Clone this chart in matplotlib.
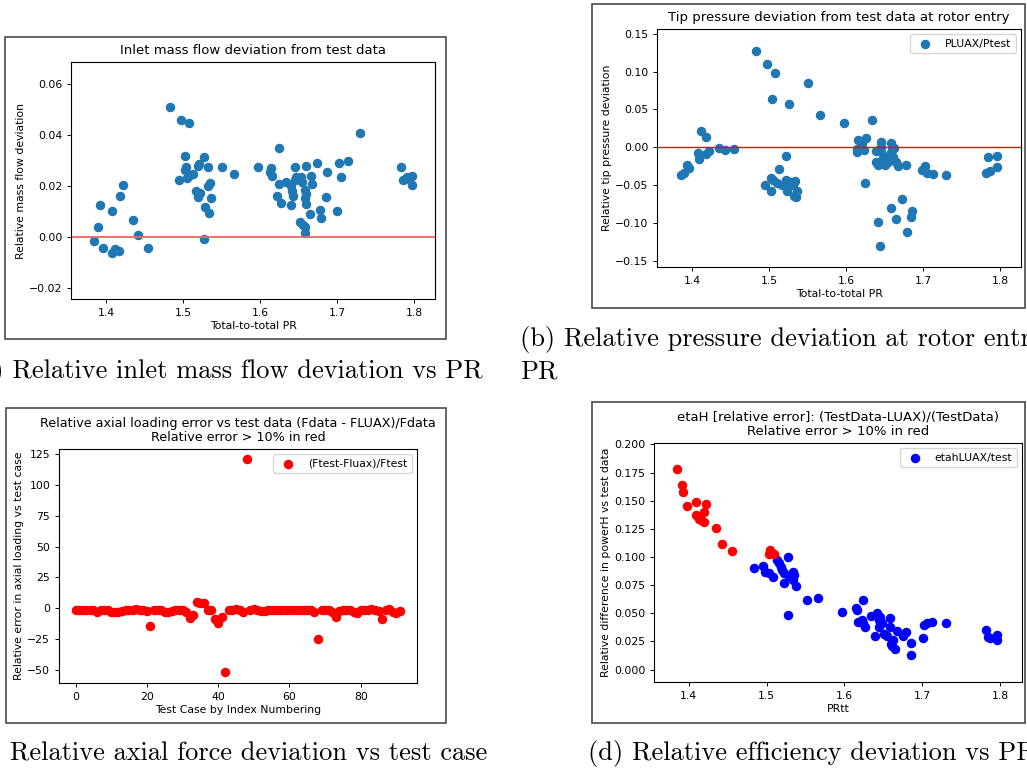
import numpy as np
import matplotlib.pyplot as plt
from matplotlib.patches import Rectangle

## data
# (a) inlet mass flow deviation vs PR
pr_a = [1.385, 1.3896, 1.392, 1.3965, 1.4078, 1.4078, 1.412, 1.4173, 1.418, 1.422,
        1.4346, 1.4415, 1.4545, 1.4826, 1.4969, 1.5081, 1.4951, 1.503, 1.5034, 1.5025,
        1.5055, 1.509, 1.5133, 1.520, 1.521, 1.5267, 1.5168, 1.522, 1.520, 1.528,
        1.534, 1.533, 1.535, 1.536, 1.533, 1.5267, 1.551, 1.566, 1.5968, 1.614,
        1.6128, 1.616, 1.624, 1.6249, 1.6214, 1.6266, 1.6335, 1.6396, 1.6413, 1.643,
        1.6396, 1.6448, 1.6456, 1.6465, 1.6534, 1.6543, 1.6595, 1.6586, 1.6595, 1.6586,
        1.6595, 1.6517, 1.656, 1.6586, 1.6577, 1.6655, 1.668, 1.6646, 1.6737, 1.6776,
        1.6789, 1.6854, 1.6863, 1.7001, 1.7027, 1.7044, 1.7135, 1.7295, 1.7823, 1.7849,
        1.7883, 1.7966, 1.7966, 1.791]
dm_a = [-0.0014, 0.0041, 0.0127, -0.0044, 0.0102, -0.0063, -0.0046, -0.0054, 0.0161, 0.0204,
        0.0067, 0.0008, -0.0041, 0.0511, 0.046, 0.0447, 0.0225, 0.0319, 0.0275, 0.0264,
        0.0231, 0.0244, 0.0247, 0.028, 0.0288, 0.0314, 0.0183, 0.0173, 0.0156, 0.0118,
        0.0095, 0.0199, 0.0212, 0.0153, 0.0276, -0.0007, 0.0276, 0.0247, 0.0276, 0.0273,
        0.0255, 0.0242, 0.0348, 0.0208, 0.0162, 0.0136, 0.0217, 0.0199, 0.0182, 0.016,
        0.0128, 0.0277, 0.0225, 0.0237, 0.0238, 0.0216, 0.028, 0.0186, 0.017, 0.0153,
        0.0131, 0.0058, 0.0047, 0.0039, 0.0018, 0.0242, 0.0207, 0.0092, 0.0293, 0.0108,
        0.0075, 0.0157, 0.0255, 0.0101, 0.0293, 0.0237, 0.0297, 0.0408, 0.0276, 0.0225,
        0.023, 0.0242, 0.0204, 0.0235]

# (b) tip pressure deviation at rotor entry vs PR
pr_b = [1.3858, 1.3892, 1.3931, 1.3965, 1.4082, 1.4086, 1.4121, 1.4186, 1.4186, 1.4224,
        1.4345, 1.4423, 1.4548, 1.4828, 1.4971, 1.5083, 1.504, 1.5264, 1.5502, 1.5657,
        1.5972, 1.6334, 1.4954, 1.5027, 1.5027, 1.5057, 1.51, 1.5126, 1.5165, 1.5217,
        1.5221, 1.523, 1.523, 1.5273, 1.5316, 1.5338, 1.5364, 1.5325, 1.5351, 1.6136,
        1.6149, 1.6145, 1.6205, 1.6231, 1.6265, 1.624, 1.6386, 1.6395, 1.642, 1.6447,
        1.6447, 1.6455, 1.6468, 1.649, 1.6511, 1.6546, 1.6567, 1.6589, 1.6602, 1.6611,
        1.662, 1.6645, 1.6671, 1.6775, 1.642, 1.6438, 1.6589, 1.6645, 1.6731, 1.6792,
        1.6848, 1.6861, 1.6986, 1.7029, 1.7051, 1.7128, 1.7301, 1.781, 1.784, 1.7862,
        1.7957, 1.7957]
dp_b = [-0.0362, -0.034, -0.0229, -0.0274, -0.0075, -0.0154, 0.0216, 0.0137, -0.0084, -0.0053,
        -0.0009, -0.004, -0.0026, 0.127, 0.1099, 0.0984, 0.0635, 0.0578, 0.0851, 0.0432,
        0.0318, 0.0362, -0.0503, -0.0401, -0.0578, -0.0437, -0.0472, -0.0287, -0.0494, -0.011,
        -0.0437, -0.0525, -0.0578, -0.0459, -0.0503, -0.045, -0.0578, -0.0649, -0.0657, -0.0026,
        0.0101, -0.0062, 0.0057, -0.0035, 0.0124, -0.0476, -0.0049, -0.0199, -0.0238, 0.0071,
        0.0004, -0.0062, -0.0172, -0.0128, -0.0238, -0.0194, -0.0093, 0.0062, -0.004, -0.0128,
        -0.0009, -0.019, -0.0247, -0.0234, -0.0984, -0.1297, -0.0799, -0.094, -0.0679, -0.1112,
        -0.0922, -0.0838, -0.0304, -0.0247, -0.0335, -0.0349, -0.0362, -0.0335, -0.0128, -0.0313,
        -0.0119, -0.026]

# (c) axial loading error per test case (index 0..91)
err_c = [-1, -1, -1, -1.5, -1, -1.5, -3.3, -1, -1, -1,
         -2.7, -3, -3, -2.5, -1, -1.5, -1, -0.5, -1, -1.5,
         -2, -14.5, -1, -1, -1.5, -3, -3.3, -2.5, -1, -1.5,
         -1, -2.7, -8.1, -5.7, 4.8, 4.6, 4, -1, -1, -8.7,
         -12.2, -6.8, -51.5, -1, -1, -0.5, -1.5, -3.3, 120.6, -1,
         -0.5, -1, -2.5, -2.5, -1.5, -1, -1.5, -1.5, -1, -1,
         -1, -1, -1, -1, -1, -1, -1, -2.7, -24.8, -1,
         -1, -1, -3.3, -7.3, -2, -1, -1, -1.5, -3, -4,
         -1, -1, -1, -0.5, -1, -2.5, -8.4, -1, -0.5, -3.3,
         -4, -2.5]
case_c = np.arange(len(err_c))

# (d) etaH relative error vs PRtt
pr_d = [1.3854, 1.391, 1.3931, 1.3974, 1.409, 1.409, 1.4129, 1.4155, 1.4193, 1.4197,
        1.4227, 1.4348, 1.4429, 1.4554, 1.5043, 1.5069, 1.5094, 1.5034, 1.4837, 1.4957,
        1.4974, 1.5034, 1.5086, 1.5275, 1.5129, 1.5159, 1.518, 1.5193, 1.5227, 1.5227,
        1.5292, 1.5335, 1.5352, 1.5343, 1.5373, 1.5279, 1.5515, 1.5661, 1.5974, 1.6146,
        1.6159, 1.6172, 1.6223, 1.6245, 1.6245, 1.6266, 1.6343, 1.6399, 1.6425, 1.6442,
        1.6442, 1.6459, 1.6481, 1.6511, 1.6545, 1.6588, 1.6588, 1.6597, 1.661, 1.6631,
        1.6652, 1.6674, 1.676, 1.6794, 1.6854, 1.6854, 1.7009, 1.703, 1.706, 1.7129,
        1.73, 1.7815, 1.7845, 1.7876, 1.7961, 1.7961]
eta_d = [0.1783, 0.1638, 0.1579, 0.1457, 0.149, 0.1377, 0.1338, 0.1329, 0.1401, 0.1312,
         0.1472, 0.1255, 0.1113, 0.1053, 0.1062, 0.1033, 0.1027, 0.1027, 0.0905, 0.092,
         0.0869, 0.0855, 0.0819, 0.0998, 0.0973, 0.0944, 0.0914, 0.0884, 0.0855, 0.0772,
         0.0834, 0.0869, 0.084, 0.0795, 0.0745, 0.0481, 0.0617, 0.0635, 0.0513, 0.0543,
         0.0528, 0.0424, 0.0439, 0.0617, 0.0415, 0.038, 0.0475, 0.03, 0.0499, 0.0439,
         0.038, 0.0469, 0.0415, 0.032, 0.0297, 0.0457, 0.038, 0.0231, 0.0208, 0.0261,
         0.0187, 0.0344, 0.0297, 0.0335, 0.0237, 0.0131, 0.0285, 0.0395, 0.041, 0.0427,
         0.0418, 0.0356, 0.0291, 0.0279, 0.0306, 0.0267]

## canvas
W, H = 1027, 770
fig = plt.figure(figsize=(W / 100, H / 100), dpi=100)

def px(l, t, r, b):
    # pixel box -> figure fraction rect
    return [l / W, 1 - b / H, (r - l) / W, (b - t) / H]

# image frames around each panel
for l, t, r, b in [(5, 37, 446, 339), (592, 4, 1025, 308),
                   (6, 408, 446, 723), (592, 402, 1025, 723)]:
    fig.patches.append(Rectangle((l / W, 1 - b / H), (r - l) / W, (b - t) / H,
                                 transform=fig.transFigure, fill=False,
                                 edgecolor='#4a4a4a', lw=1.2))

FS_T = 9.5
FS = 7.8
MS = 34

def style(ax):
    ax.tick_params(labelsize=FS, length=2.8, width=0.7)
    for s in ax.spines.values():
        s.set_linewidth(0.8)

# (a)
ax1 = fig.add_axes(px(71, 62, 435, 299))
ax1.scatter(pr_a, dm_a, s=MS, color='#1f77b4')
ax1.axhline(0, color='#f26464', lw=1.3)
ax1.set_xlim(1.3547, 1.827)
ax1.set_ylim(-0.0242, 0.0687)
ax1.set_yticks(np.arange(-0.02, 0.061, 0.02))
ax1.set_xticks([1.4, 1.5, 1.6, 1.7, 1.8])
ax1.set_title('Inlet mass flow deviation from test data', fontsize=FS_T)
ax1.set_xlabel('Total-to-total PR', fontsize=FS, labelpad=2)
ax1.set_ylabel('Relative mass flow deviation', fontsize=FS, labelpad=2)
style(ax1)

# (b)
ax2 = fig.add_axes(px(657, 29, 1021, 267))
ax2.scatter(pr_b, dp_b, s=MS, color='#1f77b4', label='PLUAX/Ptest')
ax2.axhline(0, color='red', lw=1.0)
ax2.set_xlim(1.3547, 1.827)
ax2.set_ylim(-0.158, 0.1562)
ax2.set_yticks(np.arange(-0.15, 0.151, 0.05))
ax2.set_xticks([1.4, 1.5, 1.6, 1.7, 1.8])
ax2.set_title('Tip pressure deviation from test data at rotor entry', fontsize=FS_T)
ax2.set_xlabel('Total-to-total PR', fontsize=FS, labelpad=2)
ax2.set_ylabel('Relative tip pressure deviation', fontsize=FS, labelpad=2)
ax2.legend(loc='upper right', fontsize=FS, scatterpoints=1)
style(ax2)

# (c)
ax3 = fig.add_axes(px(59, 449, 417, 683))
ax3.scatter(case_c, err_c, s=MS, color='red', label='(Ftest-Fluax)/Ftest')
ax3.set_xlim(-4.68, 95.8)
ax3.set_ylim(-60.3, 128.8)
ax3.set_yticks(np.arange(-50, 126, 25))
ax3.set_xticks([0, 20, 40, 60, 80])
ax3.set_title('Relative axial loading error vs test data (Fdata - FLUAX)/Fdata\n'
              'Relative error > 10% in red', fontsize=9.2, linespacing=1.1)
ax3.set_xlabel('Test Case by Index Numbering', fontsize=FS, labelpad=2)
ax3.set_ylabel('Relative error in axial loading vs test case', fontsize=FS, labelpad=2)
ax3.legend(loc='upper right', fontsize=FS, scatterpoints=1)
style(ax3)

# (d) blue below 10 %, red above
pr_d = np.array(pr_d)
eta_d = np.array(eta_d)
hi = eta_d > 0.10
ax4 = fig.add_axes(px(654, 443, 1022, 682))
ax4.scatter(pr_d[~hi], eta_d[~hi], s=MS, color='blue', label='etahLUAX/test')
ax4.scatter(pr_d[hi], eta_d[hi], s=MS, color='red')
ax4.set_xlim(1.3554, 1.8283)
ax4.set_ylim(-0.011, 0.2012)
ax4.set_yticks(np.arange(0, 0.201, 0.025))
ax4.set_xticks([1.4, 1.5, 1.6, 1.7, 1.8])
ax4.set_title('etaH [relative error]: (TestData-LUAX)/(TestData)\n'
              'Relative error > 10% in red', fontsize=FS_T, linespacing=1.1)
ax4.set_xlabel('PRtt', fontsize=FS, labelpad=2)
ax4.set_ylabel('Relative difference in powerH vs test data', fontsize=FS, labelpad=2)
ax4.legend(loc='upper right', fontsize=FS, scatterpoints=1)
style(ax4)

## sub-captions
cap = dict(fontfamily='cmr10', fontsize=19, va='baseline', color='black')
fig.text(483 / W, 1 - 378 / H, '(a) Relative inlet mass flow deviation vs PR', ha='right', **cap)
fig.text(520 / W, 1 - 346 / H, '(b) Relative pressure deviation at rotor entry vs', ha='left', **cap)
fig.text(520 / W, 1 - 378 / H, 'PR', ha='left', **cap)
fig.text(487 / W, 1 - 760 / H, '(c) Relative axial force deviation vs test case', ha='right', **cap)
fig.text(588 / W, 1 - 760 / H, '(d) Relative efficiency deviation vs PR', ha='left', **cap)

fig.savefig('out.png', dpi=100)
